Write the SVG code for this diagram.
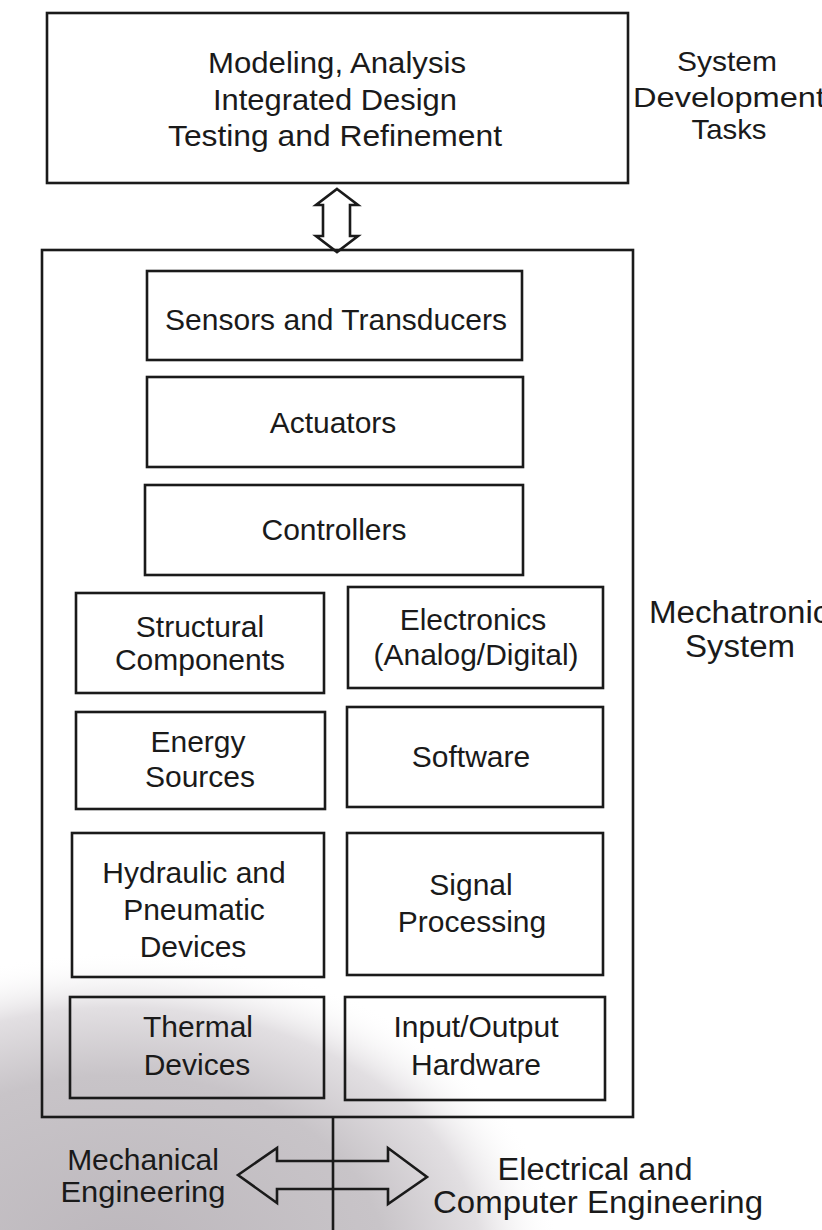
<svg xmlns="http://www.w3.org/2000/svg" width="822" height="1230" viewBox="0 0 822 1230">
  <style>
    .box { fill: none; stroke: #1a1a1a; stroke-width: 2.6; }
    .arrow { fill: none; stroke: #1a1a1a; stroke-width: 2.6; stroke-linejoin: miter; }
    text { font-family: "Liberation Sans", Arial, sans-serif; fill: #1a1a1a; text-anchor: middle; }
    .t28 { font-size: 28px; }
    .t29 { font-size: 29px; }
    .t30 { font-size: 30px; }
    .t31 { font-size: 31px; }
  </style>
  <defs>
    <radialGradient id="shade" gradientUnits="userSpaceOnUse" cx="120" cy="1260" r="440" gradientTransform="translate(120 1260) scale(1 0.7) translate(-120 -1260)">
      <stop offset="0" stop-color="#bcb7bc"/>
      <stop offset="0.6" stop-color="#c8c4c8"/>
      <stop offset="0.82" stop-color="#e2dfe2"/>
      <stop offset="1" stop-color="#ffffff" stop-opacity="0"/>
    </radialGradient>
  </defs>
  <rect x="0" y="0" width="822" height="1230" fill="#ffffff"/>
  <rect x="0" y="900" width="822" height="330" fill="url(#shade)"/>

  <g id="dev-tasks-box">
    <rect class="box" x="47" y="13" width="581" height="170"/>
    <text class="t29" x="337" y="73" textLength="258" lengthAdjust="spacingAndGlyphs">Modeling, Analysis</text>
    <text class="t29" x="335" y="110" textLength="244" lengthAdjust="spacingAndGlyphs">Integrated Design</text>
    <text class="t29" x="335" y="146" textLength="334" lengthAdjust="spacingAndGlyphs">Testing and Refinement</text>
  </g>

  <g id="dev-tasks-label">
    <text class="t28" x="727" y="71" textLength="100" lengthAdjust="spacingAndGlyphs">System</text>
    <text class="t28" x="729" y="107" textLength="192" lengthAdjust="spacingAndGlyphs">Development</text>
    <text class="t28" x="729" y="139" textLength="75" lengthAdjust="spacingAndGlyphs">Tasks</text>
  </g>

  <g id="mechatronic-system">
    <rect class="box" x="42" y="250" width="591" height="867"/>
    <text class="t31" x="649" y="623" style="text-anchor:start" textLength="197" lengthAdjust="spacingAndGlyphs">Mechatronics</text>
    <text class="t31" x="740" y="657" textLength="110" lengthAdjust="spacingAndGlyphs">System</text>
  </g>

  <g id="sensors">
    <rect class="box" x="147" y="271" width="375" height="89"/>
    <text class="t30" x="336" y="330">Sensors and Transducers</text>
  </g>
  <g id="actuators">
    <rect class="box" x="147" y="377" width="376" height="90"/>
    <text class="t30" x="333" y="433">Actuators</text>
  </g>
  <g id="controllers">
    <rect class="box" x="145" y="485" width="378" height="90"/>
    <text class="t30" x="334" y="540">Controllers</text>
  </g>

  <g id="structural">
    <rect class="box" x="76" y="593" width="248" height="100"/>
    <text class="t30" x="200" y="637">Structural</text>
    <text class="t30" x="200" y="670">Components</text>
  </g>
  <g id="electronics">
    <rect class="box" x="348" y="587" width="255" height="101"/>
    <text class="t30" x="473" y="630">Electronics</text>
    <text class="t30" x="476" y="665">(Analog/Digital)</text>
  </g>

  <g id="energy">
    <rect class="box" x="76" y="712" width="249" height="97"/>
    <text class="t30" x="198" y="752">Energy</text>
    <text class="t30" x="200" y="787">Sources</text>
  </g>
  <g id="software">
    <rect class="box" x="347" y="707" width="256" height="100"/>
    <text class="t30" x="471" y="767">Software</text>
  </g>

  <g id="hydraulic">
    <rect class="box" x="72" y="833" width="252" height="144"/>
    <text class="t30" x="194" y="883">Hydraulic and</text>
    <text class="t30" x="194" y="920">Pneumatic</text>
    <text class="t30" x="193" y="957">Devices</text>
  </g>
  <g id="signal">
    <rect class="box" x="347" y="833" width="256" height="142"/>
    <text class="t30" x="471" y="895">Signal</text>
    <text class="t30" x="472" y="932">Processing</text>
  </g>

  <g id="thermal">
    <rect class="box" x="70" y="997" width="254" height="101"/>
    <text class="t30" x="198" y="1037">Thermal</text>
    <text class="t30" x="197" y="1075">Devices</text>
  </g>
  <g id="io-hardware">
    <rect class="box" x="345" y="997" width="260" height="103"/>
    <text class="t30" x="476" y="1037">Input/Output</text>
    <text class="t30" x="476" y="1075">Hardware</text>
  </g>

  <g id="mech-eng">
    <text class="t30" x="143" y="1170">Mechanical</text>
    <text class="t30" x="143" y="1202" textLength="165" lengthAdjust="spacingAndGlyphs">Engineering</text>
  </g>
  <g id="elec-comp-eng">
    <text class="t31" x="595" y="1180" textLength="195" lengthAdjust="spacingAndGlyphs">Electrical and</text>
    <text class="t31" x="598" y="1213" textLength="330" lengthAdjust="spacingAndGlyphs">Computer Engineering</text>
  </g>

  <g id="connectors">
    <polygon class="arrow" points="337,189 358,205 350,205 350,236 358,236 337,252 316,236 323,236 323,205 316,205"/>
    <line x1="333" y1="1117" x2="333" y2="1230" stroke="#1a1a1a" stroke-width="2.6"/>
    <polygon class="arrow" points="238,1175 277,1148 277,1161 388,1161 388,1148 427,1177 388,1204 388,1189 277,1189 277,1203"/>
  </g>
</svg>
